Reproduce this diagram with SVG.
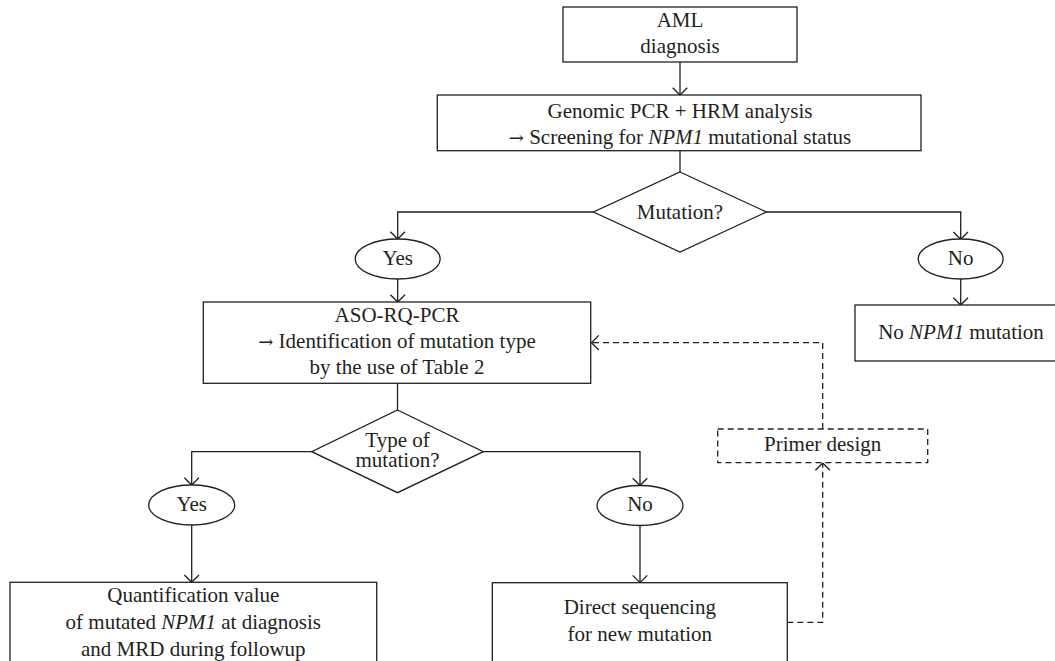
<svg xmlns="http://www.w3.org/2000/svg" width="1055" height="661" viewBox="0 0 1055 661">
<defs>
<style>
.box{fill:#fff;stroke:#231f20;stroke-width:1.3}
.dbox{fill:#fff;stroke:#231f20;stroke-width:1.3;stroke-dasharray:6,4}
.ln{fill:none;stroke:#231f20;stroke-width:1.3}
.dl{fill:none;stroke:#231f20;stroke-width:1.3;stroke-dasharray:6,4}
.t{font-family:"Liberation Serif","Times New Roman",serif;font-size:21px;fill:#231f20;text-anchor:middle}
.i{font-style:italic}
.ar{font-family:"DejaVu Serif",serif;font-size:18px}
</style>
<marker id="ah" viewBox="-9 -9 18 18" markerWidth="18" markerHeight="18" refX="0" refY="0" orient="auto" markerUnits="userSpaceOnUse">
<path d="M-7.3,-7.3 L0,0 L-7.3,7.3" fill="none" stroke="#231f20" stroke-width="1.3"/>
</marker>
</defs>
<rect width="1055" height="661" fill="#fff"/>
<g id="connectors">
<path class="ln" d="M680,62 V95" marker-end="url(#ah)"/>
<path class="ln" d="M680,150.7 V172"/>
<path class="ln" d="M593.5,212 H397.7 V239" marker-end="url(#ah)"/>
<path class="ln" d="M766.5,212 H960.7 V239.3" marker-end="url(#ah)"/>
<path class="ln" d="M397.7,279 V302" marker-end="url(#ah)"/>
<path class="ln" d="M960.7,279 V305" marker-end="url(#ah)"/>
<path class="ln" d="M397.5,383.3 V410"/>
<path class="ln" d="M311.7,451.7 H191.7 V485" marker-end="url(#ah)"/>
<path class="ln" d="M483.3,451.7 H640 V485.5" marker-end="url(#ah)"/>
<path class="ln" d="M191.7,525 V582.3" marker-end="url(#ah)"/>
<path class="ln" d="M640,525.5 V582.7" marker-end="url(#ah)"/>
<path class="dl" d="M787.3,622.3 H822.7 V463" marker-end="url(#ah)"/>
<path class="dl" d="M822.7,429 V342.7 H591.5" marker-end="url(#ah)"/>
</g>
<g id="aml">
<rect class="box" x="563" y="7" width="234" height="55"/>
<text class="t" x="680" y="27">AML</text>
<text class="t" x="680" y="53">diagnosis</text>
</g>
<g id="genomic">
<rect class="box" x="437.3" y="95" width="483.7" height="55.7"/>
<text class="t" x="680" y="117.5">Genomic PCR + HRM analysis</text>
<text class="t" x="680" y="143.5"><tspan class="ar">→</tspan> Screening for <tspan class="i">NPM1</tspan> mutational status</text>
</g>
<g id="mutation">
<polygon class="box" points="680,172 766.5,212 680,252 593.5,212"/>
<text class="t" x="680" y="218.5">Mutation?</text>
</g>
<g id="yes1">
<ellipse class="box" cx="397.7" cy="259" rx="42.5" ry="20"/>
<text class="t" x="397.7" y="264.5">Yes</text>
</g>
<g id="no1">
<ellipse class="box" cx="960.7" cy="259" rx="42.5" ry="20"/>
<text class="t" x="960.7" y="264.5">No</text>
</g>
<g id="nonpm1">
<rect class="box" x="855" y="305" width="212" height="56"/>
<text class="t" x="961" y="338.5">No <tspan class="i">NPM1</tspan> mutation</text>
</g>
<g id="aso">
<rect class="box" x="203.3" y="302" width="387.4" height="81.3"/>
<text class="t" x="397" y="322">ASO-RQ-PCR</text>
<text class="t" x="397" y="348"><tspan class="ar">→</tspan> Identification of mutation type</text>
<text class="t" x="397" y="374">by the use of Table 2</text>
</g>
<g id="type">
<polygon class="box" points="397.5,410 483.3,451.7 397.5,492.7 311.7,451.7"/>
<text class="t" x="397.5" y="446.5">Type of</text>
<text class="t" x="397.5" y="467">mutation?</text>
</g>
<g id="primer">
<rect class="dbox" x="717.7" y="429" width="210" height="33.7"/>
<text class="t" x="822.7" y="451">Primer design</text>
</g>
<g id="yes2">
<ellipse class="box" cx="191.7" cy="505" rx="43" ry="20"/>
<text class="t" x="191.7" y="510.5">Yes</text>
</g>
<g id="no2">
<ellipse class="box" cx="640" cy="505.5" rx="43" ry="20"/>
<text class="t" x="640" y="511">No</text>
</g>
<g id="quant">
<rect class="box" x="10" y="582.3" width="366.7" height="100"/>
<text class="t" x="193.3" y="602">Quantification value</text>
<text class="t" x="193.3" y="629">of mutated <tspan class="i">NPM1</tspan> at diagnosis</text>
<text class="t" x="193.3" y="655.5">and MRD during followup</text>
</g>
<g id="direct">
<rect class="box" x="492.3" y="582.7" width="295" height="100"/>
<text class="t" x="639.8" y="613.5">Direct sequencing</text>
<text class="t" x="639.8" y="640.7">for new mutation</text>
</g>
</svg>
